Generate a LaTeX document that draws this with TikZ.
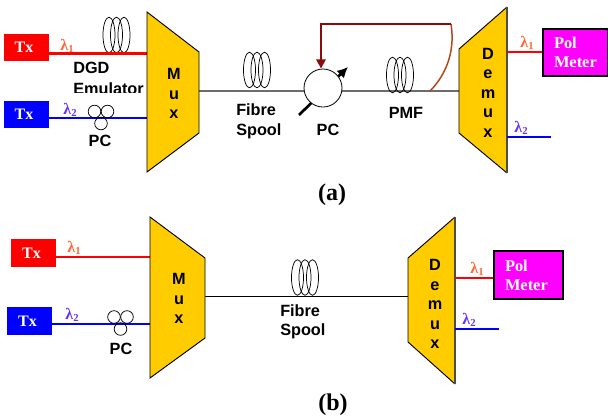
\documentclass[tikz,border=0pt]{standalone}
\usepackage{fontspec}
\setmainfont{Liberation Serif}
\setsansfont{Liberation Sans}
\usetikzlibrary{arrows.meta}
\definecolor{goldbox}{HTML}{FFCC00}
\definecolor{lamone}{HTML}{FF6633}
\definecolor{lamtwo}{HTML}{6633FF}
\definecolor{fbred}{HTML}{8B0A0A}
\definecolor{fbbrown}{HTML}{B0461A}
\definecolor{polfill}{HTML}{FF00FF}
\definecolor{purered}{HTML}{FF0000}
\definecolor{pureblue}{HTML}{0000FF}
\newcommand{\lam}[1]{\textbf{λ}\raisebox{-0.35ex}{\fontsize{8}{8}\selectfont\textbf{#1}}}
\newcommand{\fibrecoil}[2]{%
  \foreach \dx in {-7.5,0,7.5}{\draw[coilline] (#1+\dx,#2) ellipse [x radius=6,y radius=17.8];}}
\newcommand{\smallpc}[2]{%
  \draw[coilline] (#1-6.5,#2-6) circle [radius=6.3];
  \draw[coilline] (#1+6.5,#2-6) circle [radius=6.3];
  \draw[coilline] (#1,#2+6) circle [radius=6.3];}
\tikzset{
  x=0.75pt,y=-0.75pt,
  txbox/.style={minimum width=33.75pt,minimum height=20.5pt,inner sep=0pt,text=white,font=\fontsize{12}{12}\selectfont\bfseries},
  polbox/.style={draw=black,line width=0.8pt,fill=polfill,inner sep=0pt,text=white,align=left,font=\fontsize{12.3}{14.3}\selectfont\bfseries},
  lab/.style={inner sep=0pt,align=left,font=\sffamily\bfseries\fontsize{12.2}{14.6}\selectfont},
  trap/.style={fill=goldbox,draw=black,line width=0.7pt,line join=miter},
  letters/.style={inner sep=0pt,align=center,font=\sffamily\bfseries\fontsize{12.2}{14.6}\selectfont},
  redl/.style={purered,line width=1.8pt},
  bluel/.style={pureblue,line width=1.8pt},
  coilline/.style={draw=black,line width=0.55pt},
  lamA/.style={inner sep=0pt,text=lamone,font=\fontsize{12}{12}\selectfont},
  lamB/.style={inner sep=0pt,text=lamtwo,font=\fontsize{12}{12}\selectfont},
  caption/.style={inner sep=0pt,font=\fontsize{18}{18}\selectfont\bfseries},
}
\begin{document}
\begin{tikzpicture}
\useasboundingbox (0,0) rectangle (608,419);
% ---------- (a) ----------
\coordinate (muxaIn1) at (147,53.5);
\coordinate (muxaIn2) at (147,118);
\coordinate (muxaOut) at (199,91);
\coordinate (demaIn) at (459,91);
\coordinate (demaOut1) at (507,52);
\coordinate (demaOut2) at (507,137);
\coordinate (demaEnd2) at (551,137);
\coordinate (fbtap) at (430,91);
\coordinate (fbcorner) at (451,24);
\coordinate (fbelbow) at (321,24);
\coordinate (arrA) at (299,115);
\coordinate (arrB) at (348,67);

\node[txbox,fill=purered] (txa1) at (26,47.5) {\kern-3pt Tx};
\node[txbox,fill=pureblue] (txa2) at (26,114.5) {\kern-3pt Tx};

\fibrecoil{116.5}{35}
\draw[redl] (txa1.east |- muxaIn1) -- (muxaIn1);
\draw[bluel] (txa2.east |- muxaIn2) -- (muxaIn2);
\smallpc{101}{117.5}
\node[lamA] (la1) at (67,46) {\lam{1}};
\node[lamB] (la2) at (70,110) {\lam{2}};
\node[lab,anchor=west] (dgd) at (73,68) {DGD};
\begin{scope}
\clip (60,76) rectangle (147,92);
\node[lab,anchor=west] (emu) at (73,88.5) {Emulator};
\end{scope}
\node[lab] (pca1) at (100,141) {PC};

\draw[gray!85!black,line width=0.9pt] (muxaOut) -- (demaIn);
\draw[trap] (147,12) -- (199,52) -- (199,133) -- (147,172) -- cycle;
\node[letters] (muxa) at (174,93.5) {M\\u\\x};

\fibrecoil{257}{70}
\node[lab,anchor=west] (fsa) at (236,121.5) {Fibre\\Spool};

\draw[black,line width=2pt,-{Latex[length=8pt,width=8pt]}] (arrA) -- (arrB);
\node[circle,draw=black,fill=white,line width=0.6pt,minimum size=28.5pt,inner sep=0pt] (pcc) at (323,88) {};
\node[lab] (pca2) at (328,130) {PC};

\fibrecoil{400}{75}
\node[lab] (pmf) at (406,113) {PMF};

\draw[fbbrown,line width=1.1pt] (fbtap) .. controls (443,78) and (456,55) .. (fbcorner);
\draw[fbred,line width=1.9pt,-{Triangle[length=7pt,width=7pt]}] (fbcorner) -- (fbelbow) -- (pcc.north -| fbelbow);

\fill[goldbox] (507,7) -- (459,49) -- (459,133) -- (507,173) -- cycle;
\draw[black,line width=0.7pt] (507,7) -- (459,49) -- (459,133) -- (507,173);
\draw[gray!60!black,line width=0.9pt] (507,7) -- (507,173);
\node[letters] (dema) at (488,92.5) {D\\e\\m\\u\\x};

\node[polbox,minimum width=48.75pt,minimum height=35.25pt,text width=32.25pt] (pma) at (575.5,52.5) {Pol\\Meter};
\draw[redl] (demaOut1) -- (pma.west |- demaOut1);
\draw[bluel] (demaOut2) -- (demaEnd2);
\node[lamA] (la3) at (527,43) {\lam{1}};
\node[lamB] (la4) at (521,128) {\lam{2}};
\node[caption] (capa) at (332,195) {(a)};

% ---------- (b) ----------
\coordinate (muxbIn1) at (150,257);
\coordinate (muxbIn2) at (151,324);
\coordinate (muxbOut) at (205,296);
\coordinate (dembIn) at (408,296);
\coordinate (dembOut1) at (455,278);
\coordinate (dembOut2) at (455,329);
\coordinate (dembEnd2) at (499,329);

\node[txbox,fill=purered] (txb1) at (33.5,253) {\kern-3pt Tx};
\node[txbox,fill=pureblue] (txb2) at (29.5,321) {\kern-3pt Tx};
\draw[redl] (txb1.east |- muxbIn1) -- (muxbIn1);
\draw[bluel] (txb2.east |- muxbIn2) -- (muxbIn2);
\smallpc{120.5}{323}
\node[lamA] (lb1) at (74,248) {\lam{1}};
\node[lamB] (lb2) at (72,315) {\lam{2}};
\node[lab] (pcb) at (121,349) {PC};

\draw[black,line width=0.7pt] (muxbOut) -- (dembIn);
\draw[trap] (150,217) -- (205,258) -- (205,338) -- (150,378) -- cycle;
\node[letters] (muxb) at (179,298.5) {M\\u\\x};

\fibrecoil{305}{277.5}
\node[lab,anchor=west] (fsb) at (280,322) {Fibre\\Spool};

\fill[goldbox] (455,217) -- (408,258) -- (408,342) -- (455,384) -- cycle;
\draw[black,line width=0.7pt] (455,217) -- (408,258) -- (408,342) -- (455,384);
\draw[gray!60!black,line width=0.9pt] (455,217) -- (455,384);
\node[letters] (demb) at (435,304) {D\\e\\m\\u\\x};

\node[polbox,minimum width=51.75pt,minimum height=36pt,text width=35.25pt] (pmb) at (528.5,275) {Pol\\Meter};
\draw[redl] (dembOut1) -- (pmb.west |- dembOut1);
\draw[bluel] (dembOut2) -- (dembEnd2);
\node[lamA] (lb3) at (477,269) {\lam{1}};
\node[lamB] (lb4) at (469,320) {\lam{2}};
\node[caption] (capb) at (333,405) {(b)};
\end{tikzpicture}
\end{document}
